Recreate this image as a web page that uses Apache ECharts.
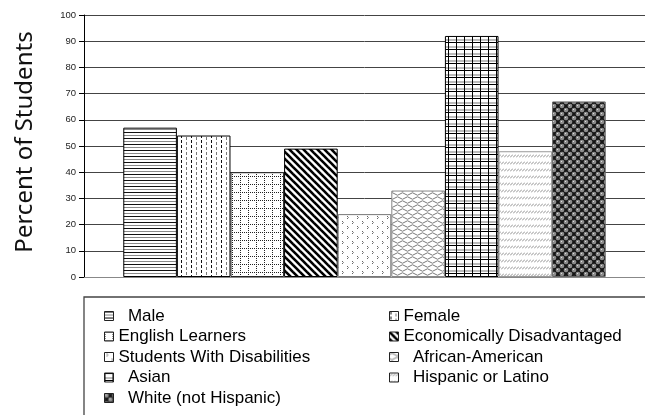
<!DOCTYPE html>
<html>
<head>
<meta charset="utf-8">
<script src="https://cdn.jsdelivr.net/npm/echarts@6/dist/echarts.min.js"></script>
<style>
html,body{margin:0;padding:0;background:#fff;}
#chart{width:645px;height:415px;}
</style>
</head>
<body>
<div id="chart"></div>
<script>
// ---- data ----
const categories = ['Students'];
const seriesNames = ['Male', 'Female', 'English Learners', 'Economically Disadvantaged',
  'Students With Disabilities', 'African-American', 'Asian', 'Hispanic or Latino', 'White (not Hispanic)'];
const values = [57, 54, 40, 49, 24, 33, 92, 48, 67];
const yTicks = [0, 10, 20, 30, 40, 50, 60, 70, 80, 90, 100];
const yTitle = 'Percent of Students';
const spacedNames = ['Male', 'Asian', 'White (not Hispanic)', 'African-American', 'Hispanic or Latino'];

// ---- pattern styles ----
function tile(w, h, draw, bg) {
  const c = document.createElement('canvas');
  c.width = w; c.height = h;
  const g = c.getContext('2d');
  g.fillStyle = bg || '#fff';
  g.fillRect(0, 0, w, h);
  draw(g);
  return { image: c, repeat: 'repeat' };
}
function px(g, x, y, col, w, h) { g.fillStyle = col; g.fillRect(x, y, w || 1, h || 1); }

const patterns = [
  // Male: horizontal lines, black/gray alternating
  tile(4, 6, g => { px(g, 0, 0, '#111', 4, 1); px(g, 0, 3, '#8a8a8a', 4, 1); }),
  // Female: vertical dashed lines
  tile(10, 10, g => {
    px(g, 1, 0, '#111', 1, 3); px(g, 1, 5, '#111', 1, 3);
    px(g, 6, 2, '#777', 1, 3); px(g, 6, 7, '#777', 1, 3);
  }),
  // English Learners: dotted grid
  tile(8, 8, g => {
    for (let i = 0; i < 8; i += 2) { px(g, i, 0, '#222'); px(g, 0, i, '#222'); }
  }),
  // Economically Disadvantaged: thick diagonal stripes "\"
  tile(7, 7, g => {
    g.strokeStyle = '#000'; g.lineWidth = 2.6;
    for (let k = -1; k <= 1; k++) { g.beginPath(); g.moveTo(k * 7 - 1, -1); g.lineTo(k * 7 + 8, 8); g.stroke(); }
  }),
  // Students With Disabilities: sparse small marks
  tile(10, 10, g => {
    px(g, 2, 1, '#666'); px(g, 3, 2, '#999'); px(g, 2, 3, '#666');
    px(g, 7, 6, '#666'); px(g, 8, 7, '#999'); px(g, 7, 8, '#666');
  }),
  // African-American: gray scallop / wave
  tile(10, 8, g => {
    g.strokeStyle = '#7a7a7a'; g.lineWidth = 1;
    g.beginPath(); g.moveTo(0, 2); g.quadraticCurveTo(2.5, -0.5, 5, 2); g.quadraticCurveTo(7.5, 4.5, 10, 2); g.stroke();
    g.beginPath(); g.moveTo(0, 6); g.quadraticCurveTo(2.5, 8.5, 5, 6); g.quadraticCurveTo(7.5, 3.5, 10, 6); g.stroke();
  }),
  // Asian: black grid with gray mid lines
  tile(8, 7, g => {
    px(g, 0, 4, '#bbb', 8, 2);
    px(g, 0, 0, '#000', 8, 1);
    px(g, 0, 0, '#000', 1, 7);
  }),
  // Hispanic or Latino: light gray small slashes in rows
  tile(3, 7, g => {
    g.strokeStyle = '#8f8f8f'; g.lineWidth = 1;
    g.beginPath(); g.moveTo(0, 3.5); g.lineTo(3, 0.5); g.stroke();
  }),
  // White (not Hispanic): dark with gray spheres
  tile(8, 8, g => {
    const ball = (x, y) => {
      g.fillStyle = '#8c8c8c'; g.beginPath(); g.arc(x, y, 2.3, 0, Math.PI * 2); g.fill();
      px(g, x - 1, y - 1, '#dcdcdc', 1, 1);
    };
    ball(2, 2); ball(6, 6);
    ball(6, -2); ball(-2, 6); ball(10, 6); ball(6, 10); ball(2, 10); ball(10, 2);
  }, '#151515')
];
const borderColors = ['#000', '#000', '#222', '#000', '#777', '#888', '#000', '#999', '#666'];

const chart = echarts.init(document.getElementById('chart'), null, { renderer: 'canvas' });

const series = seriesNames.map((name, i) => ({
  name: name,
  type: 'bar',
  data: [values[i]],
  barGap: '0%',
  barCategoryGap: '14%',
  itemStyle: { color: patterns[i], borderColor: borderColors[i], borderWidth: 1 },
  emphasis: { disabled: true },
  animation: false
}));

const legendCommon = {
  orient: 'vertical',
  padding: 0,
  itemWidth: 9,
  itemHeight: 9,
  itemGap: 3.5,
  icon: 'rect',
  selectedMode: false,
  itemStyle: { borderColor: '#222', borderWidth: 1 },
  textStyle: { fontFamily: 'Liberation Sans', fontSize: 17, color: '#000', lineHeight: 17 },
  formatter: n => (spacedNames.indexOf(n) >= 0 ? '  ' + n : n)
};

chart.setOption({
  animation: false,
  grid: { left: 84, right: 0, top: 15, bottom: 138 },
  xAxis: {
    type: 'category',
    data: categories,
    axisLine: { lineStyle: { color: '#888', width: 1 } },
    axisTick: { show: false },
    axisLabel: { show: false }
  },
  yAxis: {
    type: 'value',
    min: yTicks[0],
    max: yTicks[yTicks.length - 1],
    interval: yTicks[1] - yTicks[0],
    axisLine: { show: true, lineStyle: { color: '#000', width: 1 } },
    axisTick: { show: true, length: 5, lineStyle: { color: '#000' } },
    axisLabel: { fontFamily: 'Liberation Sans', fontSize: 9.5, color: '#222', margin: 8 },
    splitLine: { lineStyle: { color: '#444', width: 1 } }
  },
  legend: [
    Object.assign({}, legendCommon, { left: 104, top: 307.5, data: seriesNames.filter((_, i) => i % 2 === 0) }),
    Object.assign({}, legendCommon, { left: 389, top: 307.5, data: seriesNames.filter((_, i) => i % 2 === 1) })
  ],
  graphic: [
    {
      type: 'rect',
      shape: { x: 84, y: 297, width: 620, height: 200 },
      style: { fill: 'none', stroke: '#444', lineWidth: 1.3 },
      silent: true
    },
    {
      type: 'text',
      x: 25, y: 142,
      rotation: Math.PI / 2,
      style: {
        text: yTitle,
        fontFamily: 'Noto Sans',
        fontSize: 24,
        fill: '#111',
        align: 'center',
        verticalAlign: 'middle'
      },
      silent: true
    }
  ],
  series: series
});
</script>
</body>
</html>
